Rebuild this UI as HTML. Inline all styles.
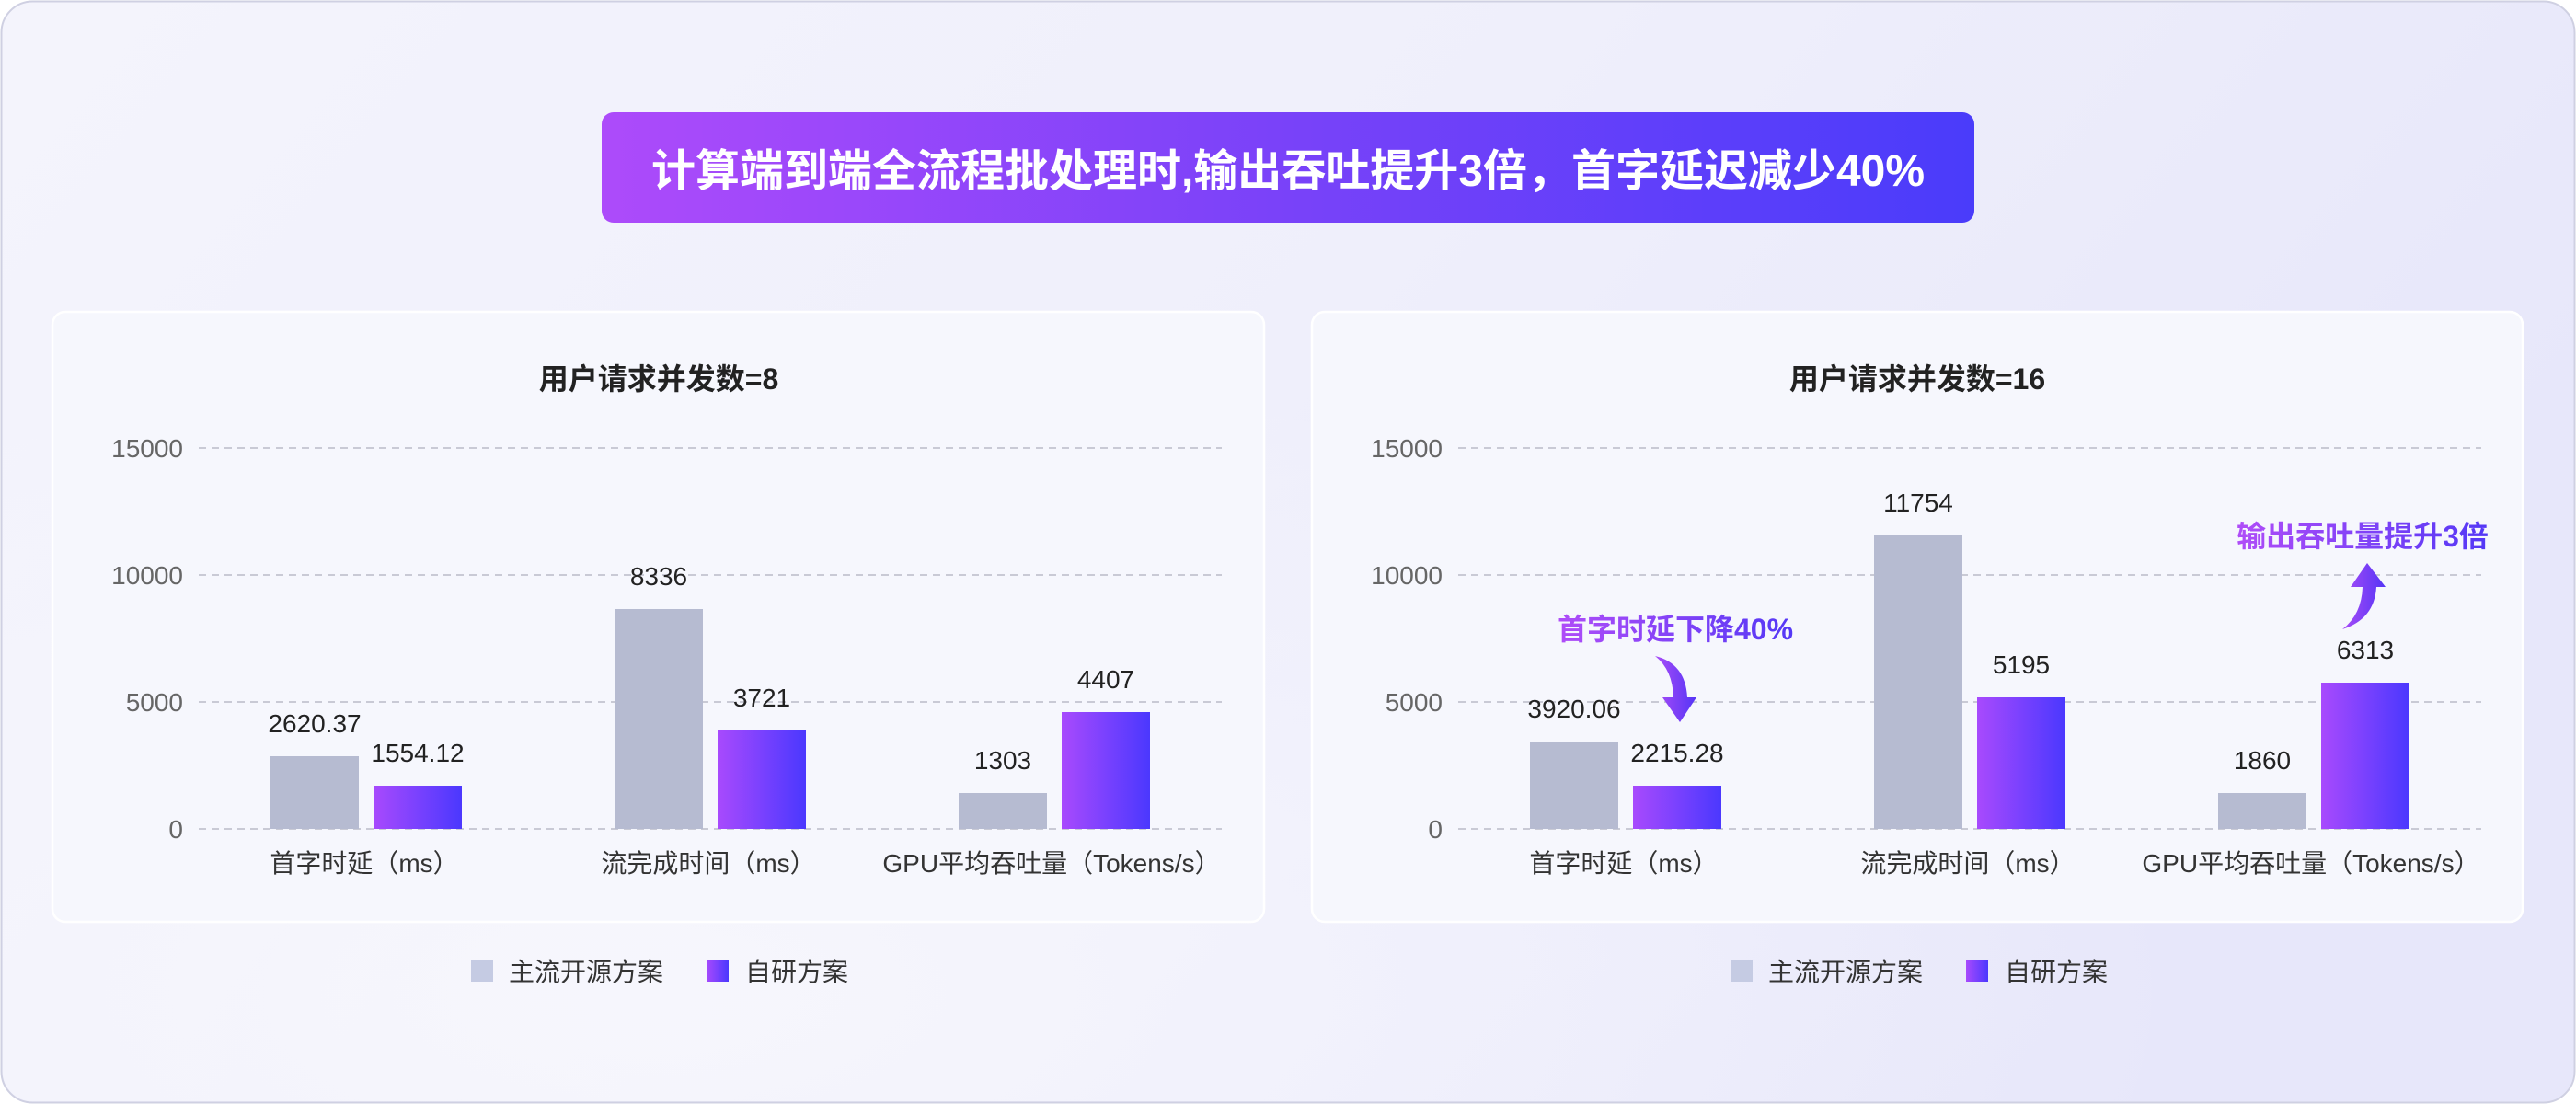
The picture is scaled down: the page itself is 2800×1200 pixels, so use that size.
<!DOCTYPE html>
<html>
<head>
<meta charset="utf-8">
<style>
  html,body{margin:0;padding:0;background:#ffffff;}
  body{width:2800px;height:1200px;overflow:hidden;}
  svg{display:block;}
  text{font-family:"Liberation Sans","Noto Sans CJK SC",sans-serif;}
</style>
</head>
<body>
<svg width="2800" height="1200" viewBox="0 0 2800 1200" xmlns="http://www.w3.org/2000/svg">
  <defs>
    <linearGradient id="bg" x1="0" y1="0" x2="1" y2="0.35">
      <stop offset="0" stop-color="#f4f4fc"/>
      <stop offset="0.55" stop-color="#efeffb"/>
      <stop offset="1" stop-color="#e7e7fa"/>
    </linearGradient>
    <radialGradient id="bgglow" cx="0.25" cy="0.9" r="0.6">
      <stop offset="0" stop-color="#f7f7fd" stop-opacity="0.9"/>
      <stop offset="1" stop-color="#f7f7fd" stop-opacity="0"/>
    </radialGradient>
    <linearGradient id="banner" x1="0" y1="0" x2="1" y2="0">
      <stop offset="0" stop-color="#ad4bfa"/>
      <stop offset="0.5" stop-color="#7942f9"/>
      <stop offset="1" stop-color="#4a3cfa"/>
    </linearGradient>
    <linearGradient id="bar" x1="0" y1="0" x2="1" y2="0">
      <stop offset="0" stop-color="#a84afd"/>
      <stop offset="1" stop-color="#4b38fe"/>
    </linearGradient>
    <linearGradient id="ann" x1="0" y1="0" x2="1" y2="0">
      <stop offset="0" stop-color="#b04df8"/>
      <stop offset="1" stop-color="#5438f6"/>
    </linearGradient>
    <linearGradient id="arrow" x1="0" y1="0" x2="1" y2="0">
      <stop offset="0" stop-color="#a94cf7"/>
      <stop offset="1" stop-color="#5535f6"/>
    </linearGradient>
  </defs>

  <!-- outer card -->
  <rect x="1.5" y="1.5" width="2797" height="1197" rx="34" ry="34" fill="url(#bg)" stroke="#cfd0e2" stroke-width="2"/>
  <rect x="3" y="3" width="2794" height="1194" rx="33" ry="33" fill="url(#bgglow)"/>

  <!-- banner -->
  <rect x="654" y="122" width="1492" height="120" rx="13" ry="13" fill="url(#banner)"/>
  <text x="1400" y="202" text-anchor="middle" font-size="48" font-weight="bold" fill="#ffffff">计算端到端全流程批处理时,输出吞吐提升3倍，首字延迟减少40%</text>

  <!-- panels -->
  <rect x="57" y="339" width="1317" height="663" rx="14" ry="14" fill="#f6f7fd" stroke="#ffffff" stroke-width="2.5"/>
  <rect x="1426" y="339" width="1316" height="663" rx="14" ry="14" fill="#f6f7fd" stroke="#ffffff" stroke-width="2.5"/>

  <!-- ===== LEFT CHART ===== -->
  <text x="716" y="423" text-anchor="middle" font-size="32" font-weight="bold" fill="#222222">用户请求并发数=8</text>
  <g stroke="#c9cad5" stroke-width="2" stroke-dasharray="8 6">
    <line x1="216" y1="487" x2="1328" y2="487"/>
    <line x1="216" y1="625" x2="1328" y2="625"/>
    <line x1="216" y1="763" x2="1328" y2="763"/>
    <line x1="216" y1="901" x2="1328" y2="901"/>
  </g>
  <g font-size="28" fill="#666666" text-anchor="end">
    <text x="199" y="497">15000</text>
    <text x="199" y="635">10000</text>
    <text x="199" y="773">5000</text>
    <text x="199" y="911">0</text>
  </g>
  <!-- bars -->
  <rect x="294" y="822" width="96" height="79" fill="#b6bbd1"/>
  <rect x="406" y="854" width="96" height="47" fill="url(#bar)"/>
  <rect x="668" y="662" width="96" height="239" fill="#b6bbd1"/>
  <rect x="780" y="794" width="96" height="107" fill="url(#bar)"/>
  <rect x="1042" y="862" width="96" height="39" fill="#b6bbd1"/>
  <rect x="1154" y="774" width="96" height="127" fill="url(#bar)"/>
  <g font-size="28" fill="#222222" text-anchor="middle">
    <text x="342" y="796">2620.37</text>
    <text x="454" y="828">1554.12</text>
    <text x="716" y="636">8336</text>
    <text x="828" y="768">3721</text>
    <text x="1090" y="836">1303</text>
    <text x="1202" y="748">4407</text>
  </g>
  <g font-size="28" fill="#333333" text-anchor="middle">
    <text x="396" y="948">首字时延（ms）</text>
    <text x="770" y="948">流完成时间（ms）</text>
    <text x="1143" y="948">GPU平均吞吐量（Tokens/s）</text>
  </g>

  <!-- ===== RIGHT CHART ===== -->
  <text x="2084" y="423" text-anchor="middle" font-size="32" font-weight="bold" fill="#222222">用户请求并发数=16</text>
  <g stroke="#c9cad5" stroke-width="2" stroke-dasharray="8 6">
    <line x1="1585" y1="487" x2="2697" y2="487"/>
    <line x1="1585" y1="625" x2="2697" y2="625"/>
    <line x1="1585" y1="763" x2="2697" y2="763"/>
    <line x1="1585" y1="901" x2="2697" y2="901"/>
  </g>
  <g font-size="28" fill="#666666" text-anchor="end">
    <text x="1568" y="497">15000</text>
    <text x="1568" y="635">10000</text>
    <text x="1568" y="773">5000</text>
    <text x="1568" y="911">0</text>
  </g>
  <rect x="1663" y="806" width="96" height="95" fill="#b6bbd1"/>
  <rect x="1775" y="854" width="96" height="47" fill="url(#bar)"/>
  <rect x="2037" y="582" width="96" height="319" fill="#b6bbd1"/>
  <rect x="2149" y="758" width="96" height="143" fill="url(#bar)"/>
  <rect x="2411" y="862" width="96" height="39" fill="#b6bbd1"/>
  <rect x="2523" y="742" width="96" height="159" fill="url(#bar)"/>
  <g font-size="28" fill="#222222" text-anchor="middle">
    <text x="1711" y="780">3920.06</text>
    <text x="1823" y="828">2215.28</text>
    <text x="2085" y="556">11754</text>
    <text x="2197" y="732">5195</text>
    <text x="2459" y="836">1860</text>
    <text x="2571" y="716">6313</text>
  </g>
  <g font-size="28" fill="#333333" text-anchor="middle">
    <text x="1765" y="948">首字时延（ms）</text>
    <text x="2139" y="948">流完成时间（ms）</text>
    <text x="2512" y="948">GPU平均吞吐量（Tokens/s）</text>
  </g>

  <!-- annotations -->
  <text x="1821" y="695" text-anchor="middle" font-size="32" font-weight="bold" fill="url(#ann)">首字时延下降40%</text>
  <path d="M1799 713 Q1832 721 1834 758 L1844 758 L1826 785 L1807 758 L1819 758 Q1818 728 1799 713 Z" fill="url(#arrow)"/>

  <text x="2568" y="594" text-anchor="middle" font-size="32" font-weight="bold" fill="url(#ann)">输出吞吐量提升3倍</text>
  <path d="M2546 684 Q2581 673 2583 638 L2593 638 L2573 612 L2555 638 L2568 638 Q2567 668 2546 684 Z" fill="url(#arrow)"/>

  <!-- legends -->
  <rect x="512" y="1043" width="24" height="24" fill="#c5cbe3"/>
  <text x="553" y="1066" font-size="28" fill="#333333">主流开源方案</text>
  <rect x="768" y="1043" width="24" height="24" fill="url(#bar)"/>
  <text x="810" y="1066" font-size="28" fill="#333333">自研方案</text>

  <rect x="1881" y="1043" width="24" height="24" fill="#c5cbe3"/>
  <text x="1922" y="1066" font-size="28" fill="#333333">主流开源方案</text>
  <rect x="2137" y="1043" width="24" height="24" fill="url(#bar)"/>
  <text x="2179" y="1066" font-size="28" fill="#333333">自研方案</text>
</svg>
</body>
</html>
